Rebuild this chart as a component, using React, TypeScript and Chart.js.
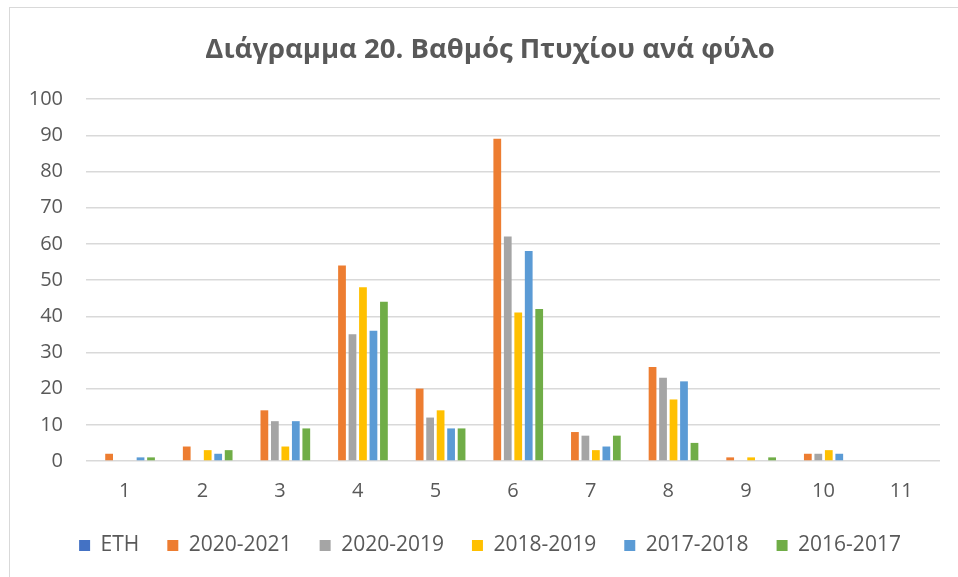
import React, { useEffect, useRef } from "react";
import { Chart, registerables } from "chart.js";

Chart.register(...registerables);

const categories = ["1", "2", "3", "4", "5", "6", "7", "8", "9", "10", "11"];
const seriesNames = ["ETH", "2020-2021", "2020-2019", "2018-2019", "2017-2018", "2016-2017"];
const eth = [0, 0, 0, 0, 0, 0, 0, 0, 0, 0, 0];
const y2020_2021 = [2, 4, 14, 54, 20, 89, 8, 26, 1, 2, 0];
const y2020_2019 = [0, 0, 11, 35, 12, 62, 7, 23, 0, 2, 0];
const y2018_2019 = [0, 3, 4, 48, 14, 41, 3, 17, 1, 3, 0];
const y2017_2018 = [1, 2, 11, 36, 9, 58, 4, 22, 0, 2, 0];
const y2016_2017 = [1, 3, 9, 44, 9, 42, 7, 5, 1, 0, 0];
const colors = ["#4472C4", "#ED7D31", "#A5A5A5", "#FFC000", "#5B9BD5", "#70AD47"];
const yTicksMin = 0;
const yTicksMax = 100;
const yStep = 10;
const title = "Διάγραμμα 20. Βαθμός Πτυχίου ανά φύλο";

const W = 980;
const H = 577;
const TEXT = "#595959";
const FONT = "'Open Sans', 'Noto Sans', sans-serif";

export default function App() {
  const ref = useRef<HTMLCanvasElement | null>(null);

  useEffect(() => {
    document.body.style.margin = "0";
    const canvas = ref.current;
    if (!canvas) return;
    const values = [eth, y2020_2021, y2020_2019, y2018_2019, y2017_2018, y2016_2017];
    const frame = {
      id: "frame",
      beforeDraw(chart: any) {
        const ctx = chart.ctx;
        ctx.save();
        ctx.fillStyle = "#ffffff";
        ctx.fillRect(0, 0, chart.width, chart.height);
        ctx.strokeStyle = "#d9d9d9";
        ctx.lineWidth = 1;
        ctx.strokeRect(9.5, 7.5, 962, 620);
        ctx.restore();
      },
    };
    const chart = new Chart(canvas, {
      type: "bar",
      data: {
        labels: categories,
        datasets: seriesNames.map((name, i) => ({
          label: name,
          data: values[i],
          backgroundColor: colors[i],
          borderWidth: 0,
          categoryPercentage: 0.81,
          barPercentage: 0.74,
          yAxisID: "y",
        })),
      },
      options: {
        responsive: false,
        animation: false,
        devicePixelRatio: 1,
        layout: { padding: { left: 0, right: 0, top: 0, bottom: 11 } },
        plugins: {
          tooltip: { enabled: false },
          title: {
            display: true,
            text: title,
            color: TEXT,
            font: { family: FONT, size: 27.5, weight: "bold", lineHeight: 1.2 },
            padding: { top: 34, bottom: 32 },
          },
          legend: {
            position: "bottom",
            labels: {
              color: TEXT,
              font: { family: FONT, size: 21 },
              boxWidth: 11,
              boxHeight: 11,
              padding: 28,
            },
          },
        },
        scales: {
          x: {
            afterFit: (s: any) => {
              s.height = s.height - 6;
            },
            grid: { display: false },
            border: { display: false },
            ticks: { color: TEXT, font: { family: FONT, size: 20 }, padding: 10, maxRotation: 0 },
          },
          y: {
            min: yTicksMin,
            max: yTicksMax,
            afterFit: (s: any) => {
              s.width = 86;
            },
            grid: { color: "#d9d9d9", lineWidth: 1.4, drawTicks: false },
            border: { display: false },
            ticks: { stepSize: yStep, color: TEXT, font: { family: FONT, size: 20 }, padding: 23 },
          },
          y2: {
            position: "right",
            afterFit: (s: any) => {
              s.width = 40;
            },
            grid: { display: false, drawTicks: false },
            border: { display: false },
            ticks: { display: false },
          },
        },
      },
      plugins: [frame],
    } as any);
    return () => chart.destroy();
  }, []);

  return (
    <div style={{ width: 958, height: 577, overflow: "hidden", position: "relative" }}>
      <canvas ref={ref} width={W} height={H} style={{ width: W, height: H, display: "block" }} />
    </div>
  );
}
